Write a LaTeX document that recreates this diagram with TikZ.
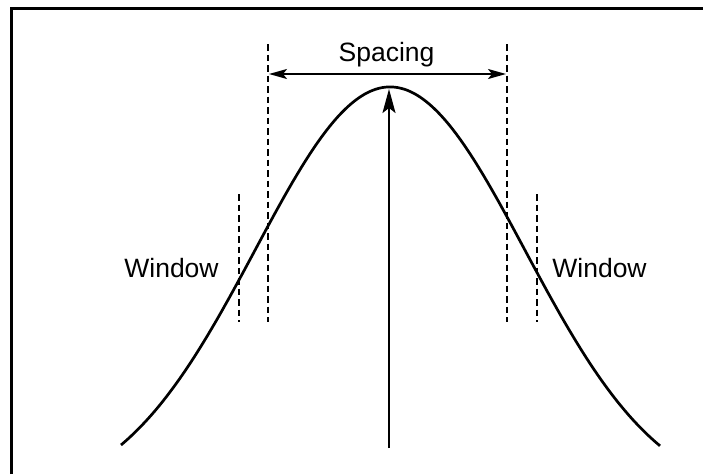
\documentclass[tikz,border=0pt]{standalone}
\usepackage{fontspec}
\setmainfont{Liberation Sans}
\usetikzlibrary{arrows.meta}
\begin{document}
\begin{tikzpicture}[x=1pt,y=-1pt,
  lbl/.style={anchor=base,inner sep=0pt,font=\fontsize{26.5}{30}\selectfont},
  dashln/.style={line width=2pt,dash pattern=on 6.5pt off 4pt},
  curveln/.style={line width=2.7pt},
  arr/.style={line width=2pt}]
\useasboundingbox (0,0) rectangle (703,474);
% frame (top and left edges only)
\draw[line width=3pt] (11,474) -- (11,8) -- (703,8);
% Gaussian curve
\draw[curveln,smooth,samples=120,domain=121:660]
  plot (\x,{502-415*exp(0-((\x-390)/190.92)^2)});
% dashed window lines
\coordinate (il1) at (268,44);  \coordinate (il2) at (268,322);
\coordinate (ir1) at (507,44);  \coordinate (ir2) at (507,322);
\coordinate (ol1) at (239,194); \coordinate (ol2) at (239,322);
\coordinate (or1) at (537,194); \coordinate (or2) at (537,322);
\draw[dashln] (il1) -- (il2);
\draw[dashln] (ir1) -- (ir2);
\draw[dashln] (ol1) -- (ol2);
\draw[dashln] (or1) -- (or2);
% spacing arrow
\coordinate (sl) at (269,74);
\coordinate (sr) at (506,74);
\draw[arr,{Stealth[length=18pt,width=10pt,inset=4pt]}-{Stealth[length=18pt,width=10pt,inset=4pt]}] (sl) -- (sr);
% center arrow
\coordinate (base) at (389,448);
\coordinate (peak) at (389,89);
\draw[arr,-{Stealth[length=24pt,width=13pt,inset=5pt]}] (base) -- (peak);
% labels
\node[lbl] (spacing) at (386.5,61.7) {Spacing};
\node[lbl] (wl) at (171.5,277) {Window};
\node[lbl] (wr) at (599.5,277) {Window};
\end{tikzpicture}
\end{document}
